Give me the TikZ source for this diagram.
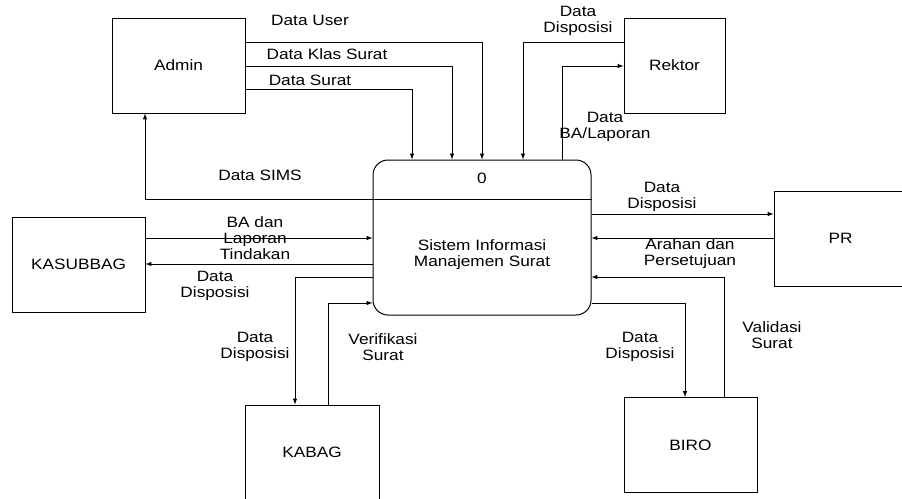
\documentclass[tikz,border=0pt]{standalone}
\usepackage{fontspec}
\setmainfont[FakeStretch=1.15]{Liberation Sans}
\usetikzlibrary{arrows}

\begin{document}
\begin{tikzpicture}[x=1pt,y=-1pt,font=\fontsize{15}{16}\selectfont]
\tikzstyle{entity} = [draw,line width=1pt,minimum width=133pt,minimum height=95pt,inner sep=0pt]
\tikzstyle{proses} = [draw,line width=1pt,rounded corners=15pt,minimum width=218pt,minimum height=155pt,inner sep=0pt]
\tikzstyle{flow} = [line width=1pt,-latex]
\tikzstyle{lbl} = [align=center,inner sep=0pt]

\useasboundingbox (0,0) rectangle (902,498);
\clip (0,0) rectangle (902,498);

% entitas luar
\node[entity] (admin) at (178.5,65.5) {Admin};
\node[entity,minimum width=101pt] (rektor) at (674.5,65.5) {Rektor};
\node[entity] (kasubbag) at (78.5,264.5) {KASUBBAG};
\node[entity,minimum width=134pt] (kabag) at (312,452.5) {KABAG};
\node[entity] (biro) at (690.5,445) {BIRO};
\node[entity] (pr) at (840.5,238.5) {PR};

% proses
\node[proses] (sims) at (482,237.5) {};
\draw[line width=1pt] (sims.west |- 0,199) -- (sims.east |- 0,199);
\node (nomor) at (482,178) {0};
\node[lbl] (namasistem) at (482,255) {Sistem Informasi\\Manajemen Surat};

% aliran data
\draw[flow] (admin.east |- 0,42) -| (sims.north);
\draw[flow] (admin.east |- 0,66) -| (sims.north -| 452,0);
\draw[flow] (admin.east |- 0,89) -| (sims.north -| 412,0);
\draw[flow] (sims.west |- 0,199) -| (admin.south -| 145,0);

\draw[flow] (rektor.west |- 0,42) -| (sims.north -| 523,0);
\draw[flow] (sims.north -| 562,0) |- (rektor.west |- 0,66);

\draw[flow] (kasubbag.east |- 0,238) -- (sims.west |- 0,238);
\draw[flow] (sims.west |- 0,264) -- (kasubbag.east |- 0,264);

\draw[flow] (sims.west |- 0,277) -| (kabag.north -| 295,0);
\draw[flow] (kabag.north -| 328,0) |- (sims.west |- 0,303);

\draw[flow] (sims.east |- 0,214) -- (pr.west |- 0,214);
\draw[flow] (pr.west |- 0,238) -- (sims.east |- 0,238);

\draw[flow] (biro.north -| 724,0) |- (sims.east |- 0,277);
\draw[flow] (sims.east |- 0,303) -| (biro.north -| 685,0);

% label
\node[lbl] (lUser) at (310,20) {Data User};
\node[lbl] (lKlas) at (327,54) {Data Klas Surat};
\node[lbl] (lSurat) at (310,80) {Data Surat};
\node[lbl] (lSims) at (260,175) {Data SIMS};
\node[lbl] (lDispR) at (578,21) {Data\\Disposisi};
\node[lbl] (lBA) at (605,127) {Data\\BA/Laporan};
\node[lbl] (lLapK) at (255,238) {BA dan\\Laporan\\Tindakan};
\node[lbl] (lDispK) at (215,286) {Data\\Disposisi};
\node[lbl] (lDispKb) at (255,347) {Data\\Disposisi};
\node[lbl] (lVer) at (383,347) {Verifikasi\\Surat};
\node[lbl] (lDispP) at (662,197) {Data\\Disposisi};
\node[lbl] (lArahan) at (690,254) {Arahan dan\\Persetujuan};
\node[lbl] (lDispB) at (640,347) {Data\\Disposisi};
\node[lbl] (lVal) at (772,335) {Validasi\\Surat};
\end{tikzpicture}
\end{document}
